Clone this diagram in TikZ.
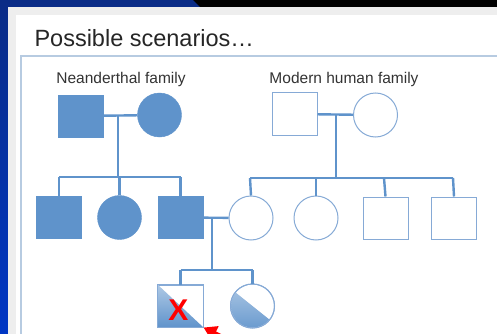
\documentclass[tikz,border=0pt]{standalone}
\usepackage{fontspec}
\setmainfont{Liberation Sans}
\usetikzlibrary{arrows.meta}
\usetikzlibrary{calc}

\definecolor{famblue}{HTML}{5F93CB}
\definecolor{openblue}{HTML}{86AAD6}
\definecolor{slideblue}{HTML}{0A2C86}
\definecolor{slidebright}{HTML}{0036C4}
\definecolor{panelgray}{HTML}{EEEEEE}
\definecolor{frameblue}{HTML}{B7CBE1}

\tikzset{
	fullsq/.style={draw=famblue,fill=famblue,rectangle,minimum width=45pt,minimum height=42pt,inner sep=0pt},
	fullci/.style={draw=famblue,fill=famblue,circle,minimum size=44pt,inner sep=0pt},
	opensq/.style={draw=openblue,fill=white,line width=1pt,rectangle,minimum width=45pt,minimum height=42pt,inner sep=0pt},
	openci/.style={draw=openblue,fill=white,line width=1pt,circle,minimum size=44pt,inner sep=0pt},
	kin/.style={draw=famblue,line width=2.4pt},
	famlabel/.style={font=\fontsize{15.5}{18}\selectfont,text=black!80}
}

\begin{document}
\begin{tikzpicture}[x=1pt,y=-1pt,>/.tip={Triangle[length=13pt,width=15pt]}]
	\useasboundingbox (0,0) rectangle (497,334);
	% slide background
	\shade[top color=slideblue,bottom color=slidebright] (0,0) rectangle (497,334);
	\fill[black] (193,0) -- (497,0) -- (497,7) -- (200,7) -- cycle;
	\fill[panelgray] (8,7) rectangle (497,334);
	\fill[white] (16,15) rectangle (497,334);
	\draw[frameblue,line width=1.2pt,fill=white] (21,340) -- (21,56) -- (505,56);
	\node[anchor=base west,font=\fontsize{23.5}{26}\selectfont,text=black!85] (title) at (31,47) {Possible scenarios\dots};

	% Neanderthal side
	\node[famlabel] (nlabel) at (121,79) {Neanderthal family};
	\draw (80.5,116) node (nfa) [fullsq] {};
	\draw (159.5,115) node (nmo) [fullci] {};
	\draw (59,217.5) node (nc1) [fullsq] {};
	\draw (119.5,217.5) node (nc2) [fullci] {};
	\draw (180.5,217.5) node (nc3) [fullsq] {};

	% modern human side
	\node[famlabel] (mlabel) at (344,79) {Modern human family};
	\draw (294.5,114) node (mfa) [opensq] {};
	\draw (375.5,115) node (mmo) [openci] {};
	\draw (251,218) node (mc1) [openci] {};
	\draw (316,218) node (mc2) [openci] {};
	\draw (385.5,218) node (mc3) [opensq] {};
	\draw (454,218) node (mc4) [opensq] {};

	% grandchildren
	\draw (180.5,306) node (gso) [opensq] {};
	\draw (252.5,306) node (gda) [openci] {};
	\begin{scope}
		\clip (gso.north west) -- (gso.south east) -- (gso.south west) -- cycle;
		\shade[top color=famblue!50,bottom color=famblue] (gso.north west) rectangle (gso.south east);
	\end{scope}
	\begin{scope}
		\clip (gda.center) circle (21.5pt);
		\shade[top color=famblue!50,bottom color=famblue] ($(gda.center)+(-30,-24)$) -- ($(gda.center)+(30,24)$) -- ($(gda.center)+(-30,30)$) -- cycle;
	\end{scope}
	\draw[openblue,line width=1pt] (gso.north west) rectangle (gso.south east);
	\draw[openblue,line width=1pt] (gda) circle (22pt);

	% pedigree lines
	\coordinate (nj) at (118,115);
	\coordinate (mj) at (336,115);
	\coordinate (cj) at (212,218);
	\path[kin] (nfa) edge (nmo);
	\path[kin] (mfa) edge (mmo);
	\path[kin] (nc3) edge (mc1);
	\draw[kin] (nj) -- (118,177);
	\draw[kin] (59,177) -- (181,177);
	\draw[kin] (59,177) -- (nc1.north);
	\draw[kin] (119.5,177) -- (nc2.north);
	\draw[kin] (180.5,177) -- (nc3.north);
	\draw[kin] (mj) -- (336,178);
	\draw[kin] (250,178) -- (453,178);
	\draw[kin] (250,178) -- (mc1.north);
	\draw[kin] (316,178) -- (mc2.north);
	\draw[kin] (384,178) -- (mc3.north);
	\draw[kin] (453,178) -- (mc4.north);
	\draw[kin] (cj) -- (212,270);
	\draw[kin] (180.5,270) -- (253,270);
	\draw[kin] (180.5,270) -- (gso.north);
	\draw[kin] (252.5,270) -- (gda.north);

	% red mark
	\node[font=\bfseries\fontsize{30}{30}\selectfont,text=red] (xmark) at (178.5,310) {X};
	\coordinate (pointer) at (245,348);
	\draw[red,line width=4pt,->] (pointer) -- (gso.south east);
\end{tikzpicture}
\end{document}
